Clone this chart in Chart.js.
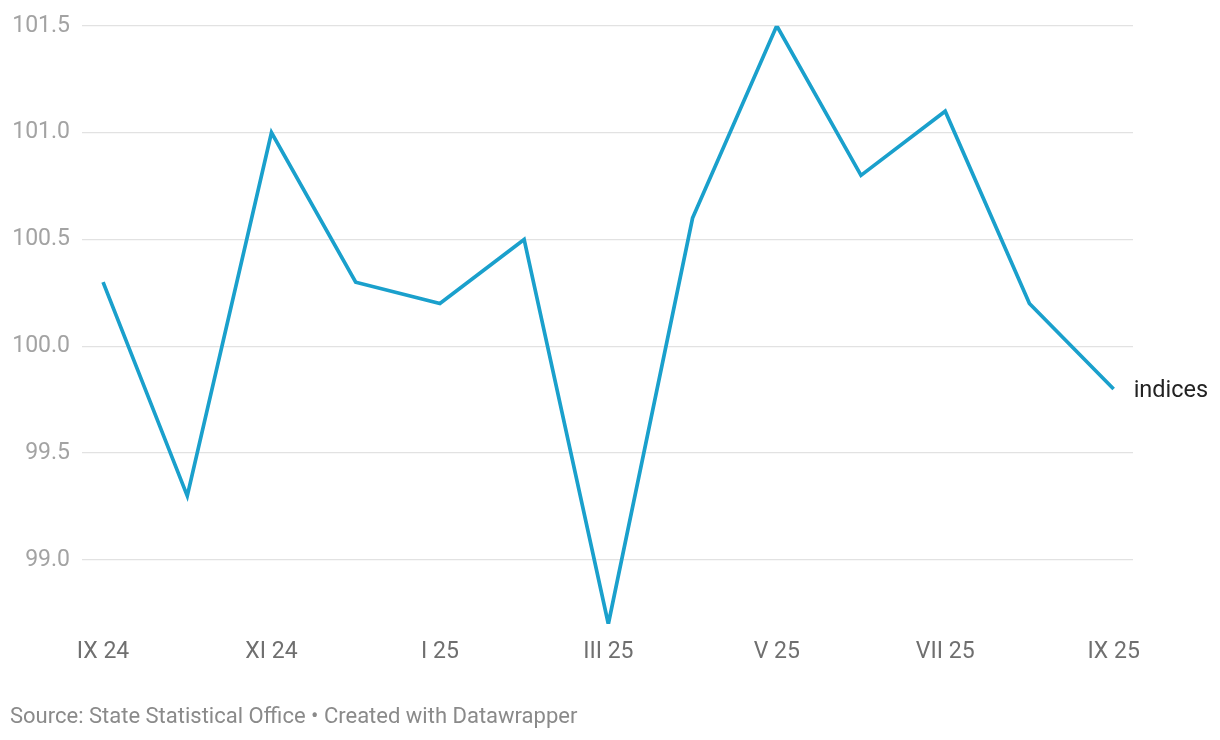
<!DOCTYPE html>
<html>
<head>
<meta charset="utf-8">
<script src="https://cdn.jsdelivr.net/npm/chart.js@4"></script>
<style>
  body { margin: 0; background: #fff; }
  #wrap { position: relative; width: 1220px; height: 740px; }
  #source {
    position: absolute; left: 10px; top: 703px;
    font: 22px Roboto, sans-serif; color: #8a8a8a; white-space: nowrap;
  }
</style>
</head>
<body>
<div id="wrap">
  <canvas id="chartIndices" width="1220" height="740"></canvas>
  <div id="source">Source: State Statistical Office • Created with Datawrapper</div>
</div>
<script>
const months = ['IX 24', 'X 24', 'XI 24', 'XII 24', 'I 25', 'II 25', 'III 25',
  'IV 25', 'V 25', 'VI 25', 'VII 25', 'VIII 25', 'IX 25'];
const indices = [100.3, 99.3, 101.0, 100.3, 100.2, 100.5, 98.7,
  100.6, 101.5, 100.8, 101.1, 100.2, 99.8];
const yTicks = [99.0, 99.5, 100.0, 100.5, 101.0, 101.5];
const xTicks = [0, 2, 4, 6, 8, 10, 12];
const seriesName = 'indices';

const lineColor = '#1aa0cc';

// writes the series name next to the last point
const endLabel = {
  id: 'endLabel',
  afterDatasetsDraw(chart) {
    const meta = chart.getDatasetMeta(0);
    const last = meta.data[meta.data.length - 1];
    const ctx = chart.ctx;
    ctx.save();
    ctx.font = '23.5px Roboto';
    ctx.fillStyle = '#222';
    ctx.textBaseline = 'middle';
    ctx.fillText(seriesName, last.x + 20, last.y + 2);
    ctx.restore();
  }
};

const chart = new Chart(document.getElementById('chartIndices'), {
  type: 'line',
  data: {
    datasets: [{
      label: seriesName,
      data: indices.map((v, i) => ({ x: i, y: v })),
      borderColor: lineColor,
      borderWidth: 3.7,
      pointRadius: 0,
      tension: 0
    }]
  },
  options: {
    responsive: false,
    animation: false,
    layout: { padding: { top: 24, right: 87, bottom: 0, left: 0 } },
    plugins: { legend: { display: false }, tooltip: { enabled: false } },
    scales: {
      x: {
        type: 'linear',
        min: -0.25,
        max: 12.23,
        afterBuildTicks: (scale) => { scale.ticks = xTicks.map(v => ({ value: v })); },
        afterFit: (scale) => { scale.height = 116; },
        grid: { display: false, drawTicks: false },
        border: { display: false },
        ticks: {
          padding: 14,
          maxRotation: 0,
          autoSkip: false,
          color: '#6f6f6f',
          font: { family: 'Roboto', size: 23 },
          callback: (v) => months[v]
        }
      },
      y: {
        min: 98.7,
        max: 101.5,
        afterBuildTicks: (scale) => { scale.ticks = yTicks.map(v => ({ value: v })); },
        afterFit: (scale) => { scale.width = 82; },
        grid: { color: '#e2e2e2', lineWidth: 1.3, drawTicks: false },
        border: { display: false },
        ticks: {
          padding: 12,
          color: '#a3a3a3',
          font: { family: 'Roboto', size: 23 },
          callback: (v) => v.toFixed(1)
        }
      }
    }
  },
  plugins: [endLabel]
});
</script>
</body>
</html>
